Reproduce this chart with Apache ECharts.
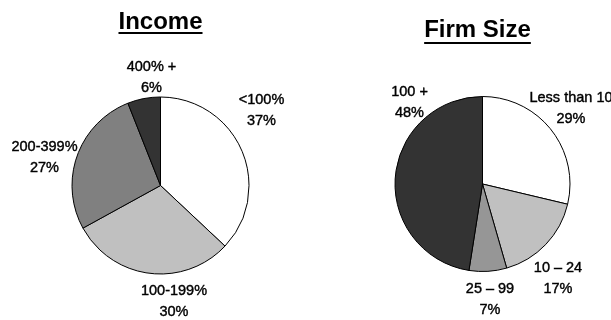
<!DOCTYPE html>
<html>
<head>
<meta charset="utf-8">
<script src="https://cdn.jsdelivr.net/npm/echarts@6/dist/echarts.min.js"></script>
<style>
  html, body { margin: 0; padding: 0; background: #fff; }
  #chart { width: 611px; height: 320px; }
</style>
</head>
<body>
<div id="chart"></div>
<script>
// Income breakdown (share of respondents, %)
const incomeCategories = ['<100%', '100-199%', '200-399%', '400% +'];
const incomeValues = [37, 30, 27, 6];

// Firm size breakdown (share of respondents, %)
const firmCategories = ['Less than 10', '10 \u2013 24', '25 \u2013 99', '100 +'];
const firmValues = [29, 17, 7, 48];

const titles = ['Income', 'Firm Size'];

// Slice fills
const incomeColors = ['#ffffff', '#c0c0c0', '#808080', '#333333'];
const firmColors = ['#ffffff', '#c0c0c0', '#969696', '#333333'];

// Label anchor points (label block centres) for each slice
const incomeLabelPos = [[261.5, 110.5], [174, 301], [44.5, 157], [151.5, 77]];
const firmLabelPos = [[571, 108.5], [558, 278], [490, 299.5], [409.5, 102]];

const FONT = '"Liberation Sans", Arial, sans-serif';

function buildSeries(categories, values, colors, labelPos, center, radius) {
  return {
    type: 'pie',
    center: center,
    radius: radius,
    startAngle: 90,
    clockwise: true,
    avoidLabelOverlap: false,
    silent: true,
    data: categories.map((name, i) => ({
      name: name,
      value: values[i],
      itemStyle: { color: colors[i] }
    })),
    itemStyle: { borderColor: '#000', borderWidth: 1 },
    label: {
      show: true,
      position: 'outside',
      formatter: '{b}\n{c}%',
      fontFamily: FONT,
      fontSize: 14.5,
      lineHeight: 21,
      color: '#000',
      textBorderColor: '#000',
      textBorderWidth: 0.4,
      align: 'center'
    },
    labelLine: { show: false },
    labelLayout: function (p) {
      const pos = labelPos[p.dataIndex];
      return { x: pos[0], y: pos[1], align: 'center', verticalAlign: 'middle' };
    },
    emphasis: { disabled: true }
  };
}

// Title text with an underline drawn beneath it
const TITLE_FONT = 'bold 24px ' + FONT;
const measureCtx = document.createElement('canvas').getContext('2d');
function titleGraphic(text, cx, midY, underlineY) {
  measureCtx.font = TITLE_FONT;
  const w = measureCtx.measureText(text).width;
  return [
    {
      type: 'text',
      x: cx, y: midY,
      style: {
        text: text,
        fill: '#000',
        font: TITLE_FONT,
        align: 'center',
        verticalAlign: 'middle'
      }
    },
    {
      type: 'rect',
      shape: { x: cx - w / 2, y: underlineY, width: w, height: 2 },
      style: { fill: '#000' }
    }
  ];
}

const chart = echarts.init(document.getElementById('chart'), null, { renderer: 'canvas' });
chart.setOption({
  animation: false,
  backgroundColor: '#fff',
  series: [
    buildSeries(incomeCategories, incomeValues, incomeColors, incomeLabelPos, [160.5, 185.5], 88.5),
    buildSeries(firmCategories, firmValues, firmColors, firmLabelPos, [482.5, 184], 87.5)
  ],
  graphic: [].concat(
    titleGraphic(titles[0], 160.5, 22.5, 32),
    titleGraphic(titles[1], 477.5, 30.5, 42)
  )
});
</script>
</body>
</html>
